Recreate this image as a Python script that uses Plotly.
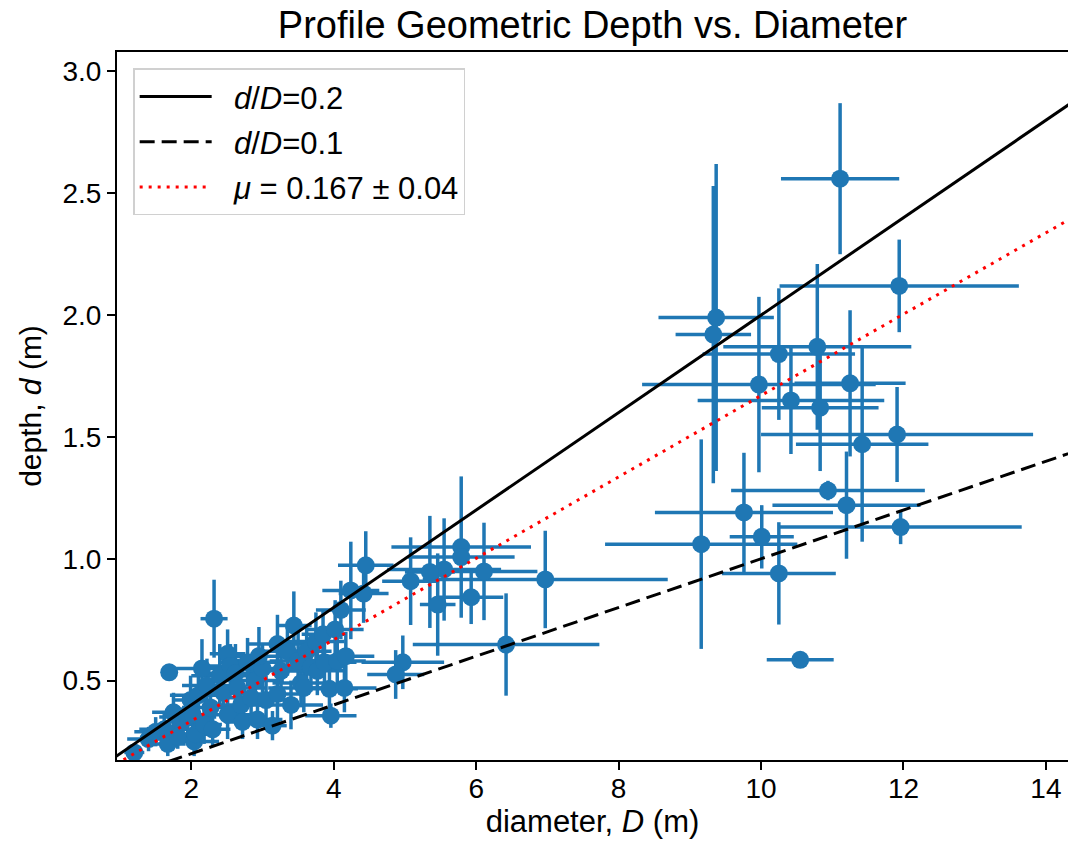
import plotly.graph_objects as go

# blue points: diameter D (m), depth d (m) and their 1-sigma errors
DIAMETER = [
    # large craters
    11.11, 11.94, 9.37, 9.33, 10.79, 10.83, 10.25, 9.97, 11.25, 10.42,
    11.91, 11.42, 10.94, 11.20, 9.76, 10.01, 9.16, 10.25, 11.96, 10.55,
    # mid-size
    5.79, 5.79, 5.55, 5.35, 6.11, 5.08, 5.93, 5.46, 6.97, 6.42,
    4.45, 4.24, 4.42, 4.97, 4.87,
    # small cluster
    1.20, 1.40, 1.50, 1.62, 1.67, 1.69, 1.75, 1.81, 1.86, 1.95,
    1.99, 2.02, 2.04, 2.06, 2.10, 2.18, 2.22, 2.27, 2.30, 2.32,
    2.40, 2.45, 2.51, 2.51, 2.55, 2.62, 2.65, 2.70, 2.72, 2.79,
    2.84, 2.90, 2.93, 3.00, 3.05, 3.14, 3.21, 3.21, 3.26, 3.35,
    3.44, 3.50, 3.54, 3.58, 3.62, 3.68, 3.75, 3.77, 3.85, 3.87,
    3.94, 3.96, 4.02, 4.05, 4.10, 4.15, 4.17, 2.95, 3.40, 2.15,
]
DEPTH = [
    2.56, 2.12, 1.99, 1.92, 1.87, 1.62, 1.84, 1.715, 1.72, 1.65,
    1.51, 1.47, 1.28, 1.22, 1.19, 1.09, 1.06, 0.94, 1.13, 0.585,
    1.048, 1.007, 0.956, 0.946, 0.948, 0.908, 0.842, 0.812, 0.915, 0.648,
    0.973, 0.870, 0.857, 0.575, 0.525,
    0.205, 0.26, 0.29, 0.30, 0.24, 0.534, 0.37, 0.27, 0.33, 0.35,
    0.42, 0.36, 0.25, 0.28, 0.44, 0.32, 0.48, 0.39, 0.30, 0.754,
    0.52, 0.45, 0.36, 0.61, 0.56, 0.53, 0.47, 0.40, 0.33, 0.575,
    0.43, 0.50, 0.34, 0.55, 0.42, 0.315, 0.445, 0.65, 0.54, 0.62,
    0.726, 0.58, 0.49, 0.47, 0.62, 0.555, 0.66, 0.54, 0.69, 0.575,
    0.466, 0.356, 0.71, 0.58, 0.79, 0.47, 0.60, 0.60, 0.40, 0.55,
]
DIAMETER_ERR = [
    0.83, 1.68, 0.81, 0.53, 1.32, 0.82, 1.07, 1.64, 0.78, 1.31,
    1.91, 0.93, 1.36, 1.04, 1.25, 0.45, 1.35, 0.80, 1.70, 0.47,
    0.98, 0.75, 0.80, 0.35, 0.75, 0.40, 0.45, 0.25, 1.72, 1.31,
    0.39, 0.40, 0.35, 0.58, 0.40,
    0.14, 0.30, 0.30, 0.35, 0.25, 0.04, 0.30, 0.30, 0.25, 0.40,
    0.25, 0.30, 0.35, 0.30, 0.40, 0.25, 0.35, 0.40, 0.25, 0.19,
    0.40, 0.35, 0.45, 0.25, 0.35, 0.40, 0.40, 0.30, 0.25, 0.40,
    0.45, 0.40, 0.35, 0.35, 0.40, 0.20, 0.40, 0.40, 0.45, 0.35,
    0.25, 0.40, 0.40, 0.50, 0.35, 0.40, 0.40, 0.40, 0.30, 0.45,
    0.40, 0.36, 0.40, 0.40, 0.35, 0.45, 0.40, 0.50, 0.45, 0.45,
]
DEPTH_ERR = [
    0.31, 0.19, 0.63, 0.61, 0.34, 0.26, 0.27, 0.36, 0.30, 0.22,
    0.195, 0.40, 0.04, 0.22, 0.245, 0.13, 0.43, 0.21, 0.07, 0.01,
    0.29, 0.06, 0.21, 0.23, 0.20, 0.18, 0.11, 0.21, 0.20, 0.21,
    0.14, 0.20, 0.12, 0.11, 0.10,
    0.03, 0.05, 0.06, 0.07, 0.05, 0.01, 0.08, 0.05, 0.06, 0.09,
    0.10, 0.07, 0.06, 0.07, 0.10, 0.08, 0.11, 0.10, 0.07, 0.16,
    0.13, 0.10, 0.10, 0.10, 0.09, 0.12, 0.12, 0.09, 0.07, 0.10,
    0.11, 0.10, 0.08, 0.10, 0.10, 0.06, 0.11, 0.12, 0.10, 0.10,
    0.14, 0.12, 0.10, 0.10, 0.11, 0.10, 0.12, 0.10, 0.10, 0.10,
    0.10, 0.05, 0.12, 0.10, 0.12, 0.10, 0.10, 0.12, 0.10, 0.12,
]

# reference d/D ratio lines
RATIO_NAMES  = ["<i>d</i>/<i>D</i>=0.2", "<i>d</i>/<i>D</i>=0.1", "<i>μ</i> = 0.167 ± 0.04"]
RATIOS       = [0.2, 0.1, 0.167]
LINE_X       = [0.5, 15.0]

X_TICKS = [2, 4, 6, 8, 10, 12, 14]
Y_TICKS = [0.5, 1.0, 1.5, 2.0, 2.5, 3.0]

C0    = "#1f77b4"
BLACK = "#000000"
RED   = "#ff0000"
FONT  = "Liberation Sans, Arial, Helvetica, sans-serif"

LINE_STYLES = [
    dict(color=BLACK, width=3),
    dict(color=BLACK, width=3, dash="15px,7px"),
    dict(color=RED, width=3, dash="3px,6px"),
]

fig = go.Figure()
fig.add_trace(go.Scatter(
    x=DIAMETER, y=DEPTH, mode="markers",
    marker=dict(color=C0, size=18),
    error_x=dict(type="data", array=DIAMETER_ERR, color=C0, thickness=3.5, width=0),
    error_y=dict(type="data", array=DEPTH_ERR, color=C0, thickness=3.5, width=0),
    showlegend=False, hoverinfo="skip",
))
for i, (name, ratio) in enumerate(zip(RATIO_NAMES, RATIOS)):
    fig.add_trace(go.Scatter(
        x=LINE_X, y=[ratio * v for v in LINE_X], mode="lines",
        name="&nbsp;&nbsp;" + name, line=LINE_STYLES[i], legendgroup=f"g{i}",
    ))

AXIS = dict(
    showline=True, linecolor=BLACK, linewidth=2,
    ticks="outside", ticklen=8, tickwidth=2, tickcolor=BLACK,
    showgrid=False, zeroline=False, automargin=False,
    tickfont=dict(size=28, color=BLACK),
)

fig.update_layout(
    width=1068, height=856,
    paper_bgcolor="white", plot_bgcolor="white",
    font=dict(family=FONT, color=BLACK, size=28),
    margin=dict(l=117, r=0, t=52, b=96),
    title=dict(text="Profile Geometric Depth vs. Diameter", font=dict(size=38),
               x=0.5, xref="paper", xanchor="center",
               y=1 - 25 / 856, yref="container", yanchor="middle"),
    xaxis=dict(**AXIS, range=[0.957, 14.31], tickvals=X_TICKS, mirror=True,
               ticklabelstandoff=-6,
               title=dict(text="diameter, <i>D</i> (m)", font=dict(size=31), standoff=8)),
    yaxis=dict(**AXIS, range=[0.174, 3.08], tickvals=Y_TICKS, tickformat=".1f",
               title=dict(text="depth, <i>d</i> (m)", font=dict(size=30), standoff=12)),
    legend=dict(x=0.017, y=0.977, xanchor="left", yanchor="top",
                bgcolor="rgba(255,255,255,0.8)", bordercolor="#d0d0d0", borderwidth=1.5,
                font=dict(size=31), tracegroupgap=2, itemwidth=72),
)

fig.write_html("out.html", config={"displayModeBar": False},
               post_script="document.body.style.margin = '0';")
